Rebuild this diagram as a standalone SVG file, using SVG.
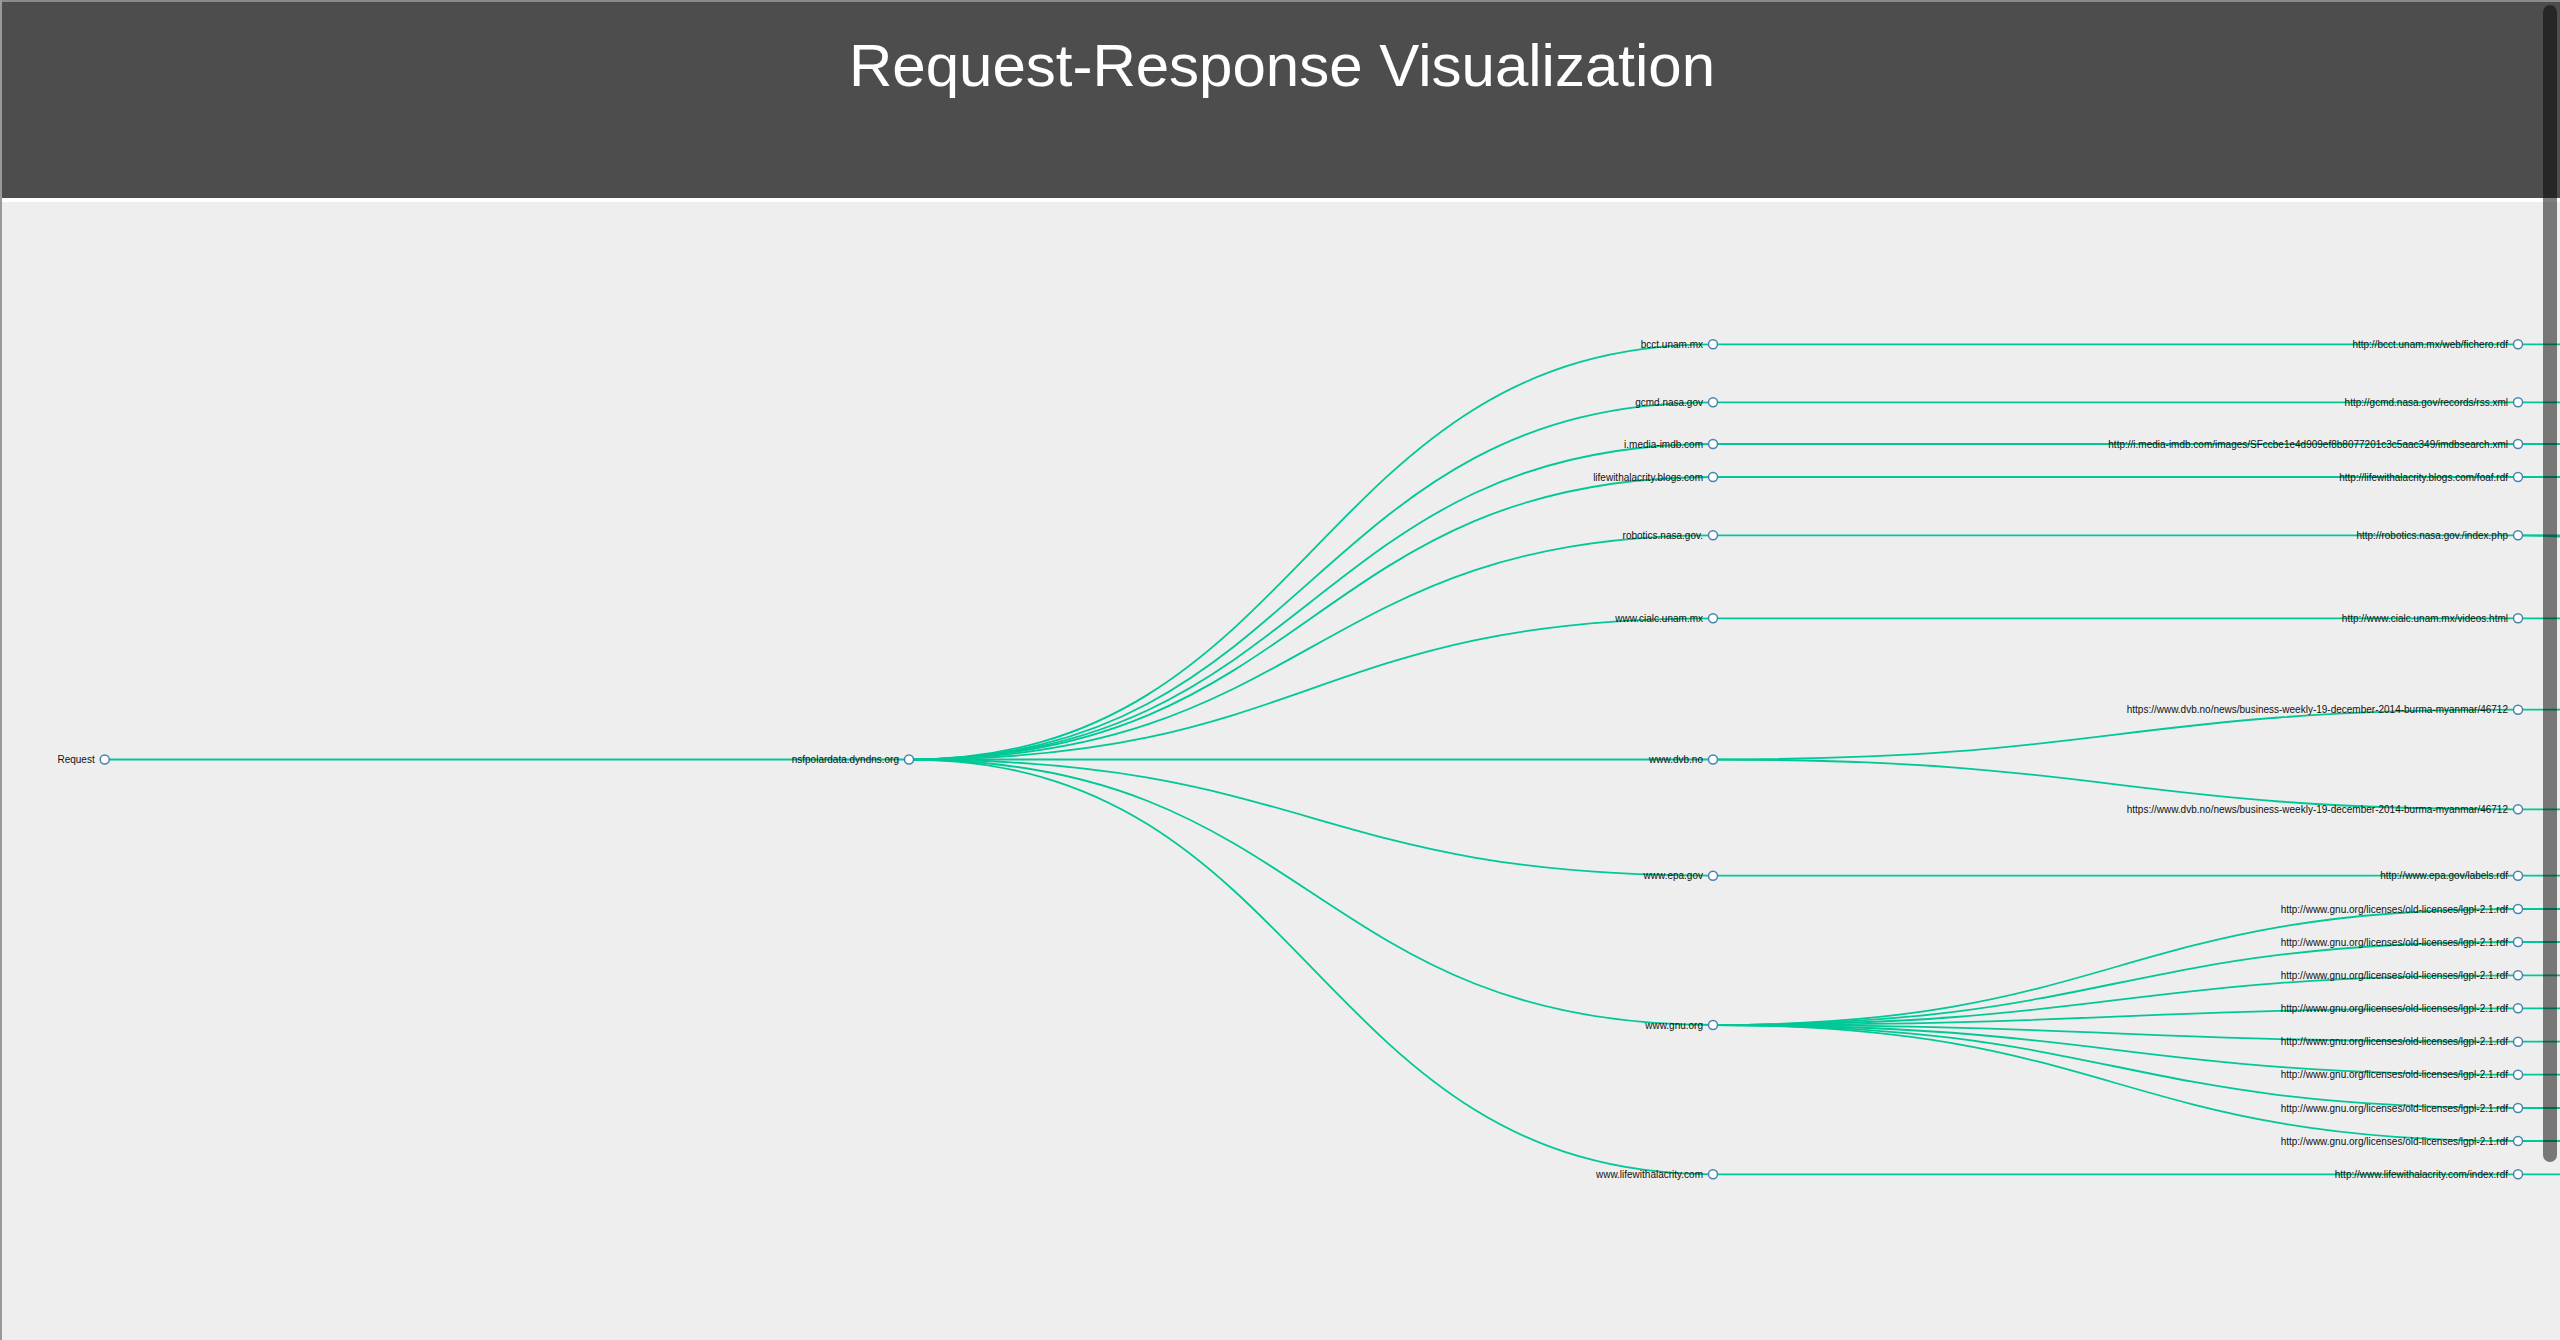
<svg xmlns="http://www.w3.org/2000/svg" width="2560" height="1340" viewBox="0 0 2560 1340">
<style>
.bg{fill:#eeeeee}
.hdr{fill:#4d4d4d}
.title{font-family:"Liberation Sans",Arial,sans-serif;font-size:60px;fill:#ffffff;text-anchor:middle}
.link{fill:none;stroke:#00c896;stroke-width:1.8}
.node circle{fill:#ffffff;stroke:#4682b4;stroke-width:1.5}
.node text{font-family:"Liberation Sans",Arial,sans-serif;font-size:10px;fill:#111111;text-anchor:end}
.sb{fill:#000000;fill-opacity:0.5}
</style>
<rect class="bg" x="0" y="0" width="2560" height="1340"/>
<rect class="hdr" x="0" y="0" width="2560" height="198"/>
<rect x="0" y="198" width="2560" height="4" fill="#ffffff"/>
<text class="title" x="1282" y="86">Request-Response Visualization</text>

<g id="links">
<path class="link" d="M104.7,759.5 L909,759.5"/>
<path class="link" d="M909,759.5 C1311,759.5 1311,344.3 1713,344.3"/>
<path class="link" d="M909,759.5 C1311,759.5 1311,402.3 1713,402.3"/>
<path class="link" d="M909,759.5 C1311,759.5 1311,444 1713,444"/>
<path class="link" d="M909,759.5 C1311,759.5 1311,477 1713,477"/>
<path class="link" d="M909,759.5 C1311,759.5 1311,535.3 1713,535.3"/>
<path class="link" d="M909,759.5 C1311,759.5 1311,618.3 1713,618.3"/>
<path class="link" d="M909,759.5 L1713,759.5"/>
<path class="link" d="M909,759.5 C1311,759.5 1311,875.7 1713,875.7"/>
<path class="link" d="M909,759.5 C1311,759.5 1311,1025 1713,1025"/>
<path class="link" d="M909,759.5 C1311,759.5 1311,1174.3 1713,1174.3"/>
<path class="link" d="M1713,344.3 L2518,344.3"/>
<path class="link" d="M1713,402.3 L2518,402.3"/>
<path class="link" d="M1713,444 L2518,444"/>
<path class="link" d="M1713,477 L2518,477"/>
<path class="link" d="M1713,535.3 L2518,535.3"/>
<path class="link" d="M1713,618.3 L2518,618.3"/>
<path class="link" d="M1713,759.5 C2115.5,759.5 2115.5,709.7 2518,709.7"/>
<path class="link" d="M1713,759.5 C2115.5,759.5 2115.5,809.3 2518,809.3"/>
<path class="link" d="M1713,875.7 L2518,875.7"/>
<path class="link" d="M1713,1025 C2115.5,1025 2115.5,909 2518,909"/>
<path class="link" d="M1713,1025 C2115.5,1025 2115.5,942 2518,942"/>
<path class="link" d="M1713,1025 C2115.5,1025 2115.5,975.3 2518,975.3"/>
<path class="link" d="M1713,1025 C2115.5,1025 2115.5,1008.3 2518,1008.3"/>
<path class="link" d="M1713,1025 C2115.5,1025 2115.5,1041.7 2518,1041.7"/>
<path class="link" d="M1713,1025 C2115.5,1025 2115.5,1074.7 2518,1074.7"/>
<path class="link" d="M1713,1025 C2115.5,1025 2115.5,1108 2518,1108"/>
<path class="link" d="M1713,1025 C2115.5,1025 2115.5,1141 2518,1141"/>
<path class="link" d="M1713,1174.3 L2518,1174.3"/>
<path class="link" d="M2518,344.3 H2560"/>
<path class="link" d="M2518,402.3 H2560"/>
<path class="link" d="M2518,444 H2560"/>
<path class="link" d="M2518,477 H2560"/>
<path class="link" d="M2518,535.3 C2540,535.3 2545,536 2560,536.5"/>
<path class="link" d="M2518,535.3 H2560"/>
<path class="link" d="M2518,618.3 H2560"/>
<path class="link" d="M2518,709.7 H2560"/>
<path class="link" d="M2518,809.3 H2560"/>
<path class="link" d="M2518,875.7 H2560"/>
<path class="link" d="M2518,909 H2560"/>
<path class="link" d="M2518,942 H2560"/>
<path class="link" d="M2518,975.3 H2560"/>
<path class="link" d="M2518,1008.3 H2560"/>
<path class="link" d="M2518,1041.7 H2560"/>
<path class="link" d="M2518,1074.7 H2560"/>
<path class="link" d="M2518,1108 H2560"/>
<path class="link" d="M2518,1141 H2560"/>
<path class="link" d="M2518,1174.3 H2560"/>
</g>

<g id="n-request" class="node" transform="translate(104.7,759.5)"><circle r="4.5"/><text x="-10" dy="3.5">Request</text></g>
<g id="n-nsf" class="node" transform="translate(909,759.5)"><circle r="4.5"/><text x="-10" dy="3.5">nsfpolardata.dyndns.org</text></g>

<g id="n-bcct" class="node" transform="translate(1713,344.3)"><circle r="4.5"/><text x="-10" dy="3.5">bcct.unam.mx</text></g>
<g id="n-gcmd" class="node" transform="translate(1713,402.3)"><circle r="4.5"/><text x="-10" dy="3.5">gcmd.nasa.gov</text></g>
<g id="n-imdb" class="node" transform="translate(1713,444)"><circle r="4.5"/><text x="-10" dy="3.5">i.media-imdb.com</text></g>
<g id="n-lwab" class="node" transform="translate(1713,477)"><circle r="4.5"/><text x="-10" dy="3.5">lifewithalacrity.blogs.com</text></g>
<g id="n-robotics" class="node" transform="translate(1713,535.3)"><circle r="4.5"/><text x="-10" dy="3.5">robotics.nasa.gov.</text></g>
<g id="n-cialc" class="node" transform="translate(1713,618.3)"><circle r="4.5"/><text x="-10" dy="3.5">www.cialc.unam.mx</text></g>
<g id="n-dvb" class="node" transform="translate(1713,759.5)"><circle r="4.5"/><text x="-10" dy="3.5">www.dvb.no</text></g>
<g id="n-epa" class="node" transform="translate(1713,875.7)"><circle r="4.5"/><text x="-10" dy="3.5">www.epa.gov</text></g>
<g id="n-gnu" class="node" transform="translate(1713,1025)"><circle r="4.5"/><text x="-10" dy="3.5">www.gnu.org</text></g>
<g id="n-lwa" class="node" transform="translate(1713,1174.3)"><circle r="4.5"/><text x="-10" dy="3.5">www.lifewithalacrity.com</text></g>

<g id="l-bcct" class="node" transform="translate(2518,344.3)"><circle r="4.5"/><text x="-10" dy="3.5">http://bcct.unam.mx/web/fichero.rdf</text></g>
<g id="l-gcmd" class="node" transform="translate(2518,402.3)"><circle r="4.5"/><text x="-10" dy="3.5">http://gcmd.nasa.gov/records/rss.xml</text></g>
<g id="l-imdb" class="node" transform="translate(2518,444)"><circle r="4.5"/><text x="-10" dy="3.5">http://i.media-imdb.com/images/SFccbe1e4d909ef8b8077201c3c5aac349/imdbsearch.xml</text></g>
<g id="l-lwab" class="node" transform="translate(2518,477)"><circle r="4.5"/><text x="-10" dy="3.5">http://lifewithalacrity.blogs.com/foaf.rdf</text></g>
<g id="l-robotics" class="node" transform="translate(2518,535.3)"><circle r="4.5"/><text x="-10" dy="3.5">http://robotics.nasa.gov./index.php</text></g>
<g id="l-cialc" class="node" transform="translate(2518,618.3)"><circle r="4.5"/><text x="-10" dy="3.5">http://www.cialc.unam.mx/videos.html</text></g>
<g id="l-dvb1" class="node" transform="translate(2518,709.7)"><circle r="4.5"/><text x="-10" dy="3.5">https://www.dvb.no/news/business-weekly-19-december-2014-burma-myanmar/46712</text></g>
<g id="l-dvb2" class="node" transform="translate(2518,809.3)"><circle r="4.5"/><text x="-10" dy="3.5">https://www.dvb.no/news/business-weekly-19-december-2014-burma-myanmar/46712</text></g>
<g id="l-epa" class="node" transform="translate(2518,875.7)"><circle r="4.5"/><text x="-10" dy="3.5">http://www.epa.gov/labels.rdf</text></g>
<g id="l-gnu1" class="node" transform="translate(2518,909)"><circle r="4.5"/><text x="-10" dy="3.5">http://www.gnu.org/licenses/old-licenses/lgpl-2.1.rdf</text></g>
<g id="l-gnu2" class="node" transform="translate(2518,942)"><circle r="4.5"/><text x="-10" dy="3.5">http://www.gnu.org/licenses/old-licenses/lgpl-2.1.rdf</text></g>
<g id="l-gnu3" class="node" transform="translate(2518,975.3)"><circle r="4.5"/><text x="-10" dy="3.5">http://www.gnu.org/licenses/old-licenses/lgpl-2.1.rdf</text></g>
<g id="l-gnu4" class="node" transform="translate(2518,1008.3)"><circle r="4.5"/><text x="-10" dy="3.5">http://www.gnu.org/licenses/old-licenses/lgpl-2.1.rdf</text></g>
<g id="l-gnu5" class="node" transform="translate(2518,1041.7)"><circle r="4.5"/><text x="-10" dy="3.5">http://www.gnu.org/licenses/old-licenses/lgpl-2.1.rdf</text></g>
<g id="l-gnu6" class="node" transform="translate(2518,1074.7)"><circle r="4.5"/><text x="-10" dy="3.5">http://www.gnu.org/licenses/old-licenses/lgpl-2.1.rdf</text></g>
<g id="l-gnu7" class="node" transform="translate(2518,1108)"><circle r="4.5"/><text x="-10" dy="3.5">http://www.gnu.org/licenses/old-licenses/lgpl-2.1.rdf</text></g>
<g id="l-gnu8" class="node" transform="translate(2518,1141)"><circle r="4.5"/><text x="-10" dy="3.5">http://www.gnu.org/licenses/old-licenses/lgpl-2.1.rdf</text></g>
<g id="l-lwa" class="node" transform="translate(2518,1174.3)"><circle r="4.5"/><text x="-10" dy="3.5">http://www.lifewithalacrity.com/index.rdf</text></g>

<rect class="sb" x="2543" y="5" width="14" height="1157" rx="7" ry="7"/>
<rect x="0" y="0" width="2560" height="2" fill="#8a8a8a"/>
<rect x="0" y="0" width="2" height="1340" fill="#999999"/>
</svg>
